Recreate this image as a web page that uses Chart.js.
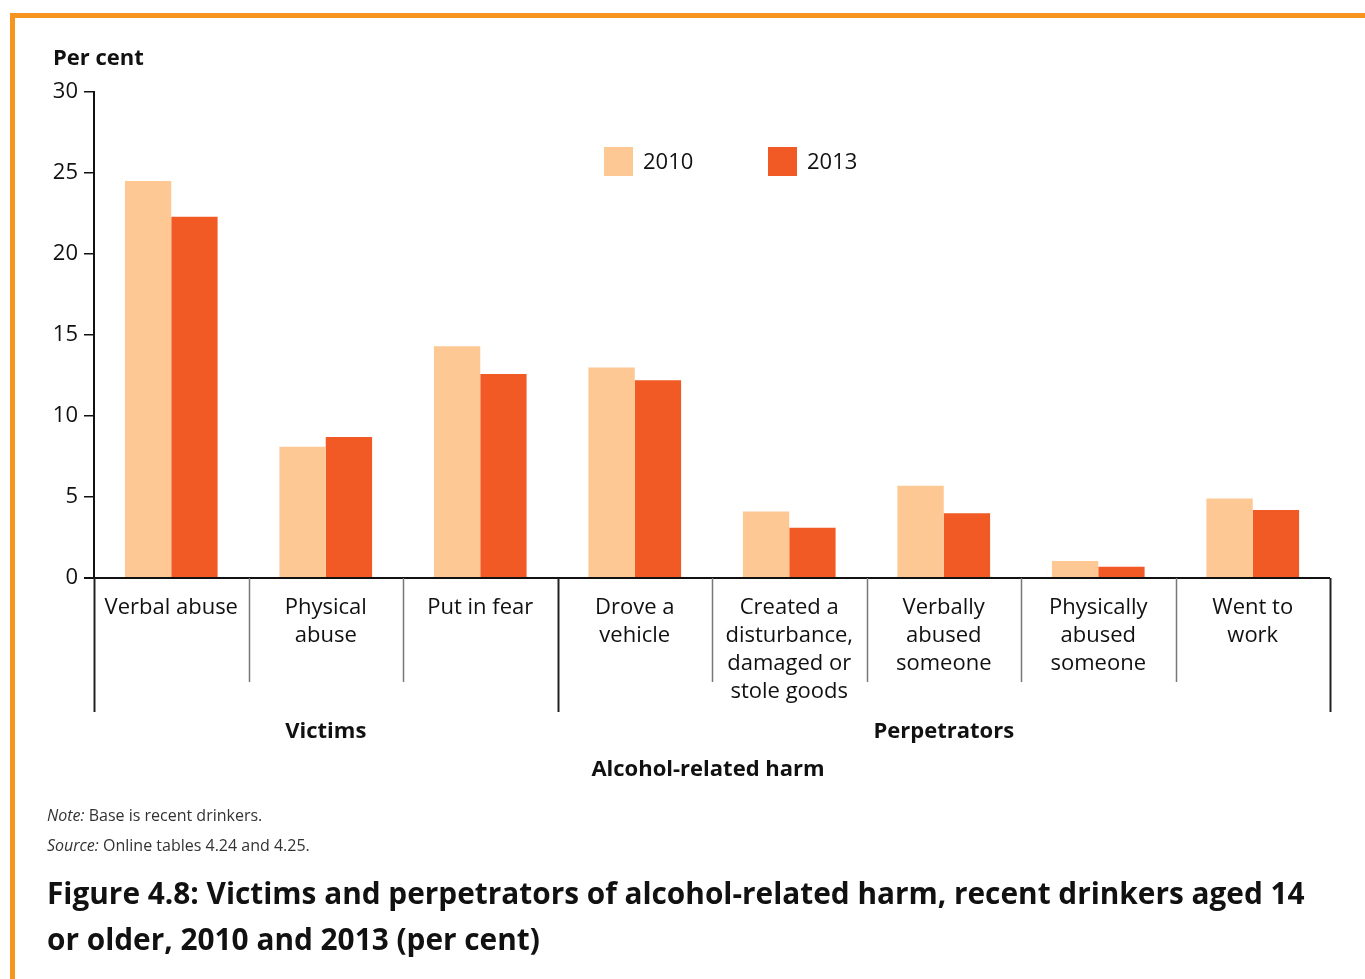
<!DOCTYPE html>
<html>
<head>
<meta charset="utf-8">
<script src="https://cdn.jsdelivr.net/npm/chart.js@4"></script>
<style>
  body { margin: 0; background: #fff; font-family: "Open Sans", sans-serif; }
  #frame { position: absolute; left: 10px; top: 13px; width: 1355px; height: 966px;
           border-top: 5px solid #F7941D; border-left: 5px solid #F7941D; }
  #wrap { position: absolute; left: 0; top: 0; width: 1365px; height: 979px; }
  .note { position: absolute; left: 47px; font-size: 16px; color: #333; }
  #title { position: absolute; left: 47px; top: 870px; width: 1310px; font-size: 29.8px;
           font-weight: bold; color: #111; line-height: 46px; white-space: nowrap; }
</style>
</head>
<body>
<div id="frame"></div>
<div id="wrap"><canvas id="harmChart"></canvas></div>
<div class="note" style="top:804px"><i>Note:</i> Base is recent drinkers.</div>
<div class="note" style="top:834px"><i>Source:</i> Online tables 4.24 and 4.25.</div>
<div id="title">Figure 4.8: Victims and perpetrators of alcohol-related harm, recent drinkers aged 14<br>or older, 2010 and 2013 (per cent)</div>
<script>
const categories = [
    ['Verbal abuse'], ['Physical', 'abuse'], ['Put in fear'], ['Drove a', 'vehicle'],
    ['Created a', 'disturbance,', 'damaged or', 'stole goods'],
    ['Verbally', 'abused', 'someone'], ['Physically', 'abused', 'someone'], ['Went to', 'work']
];
const groups = [
    { label: 'Victims', from: 0, to: 2 },
    { label: 'Perpetrators', from: 3, to: 7 }
];
const values2010 = [24.5, 8.1, 14.3, 13.0, 4.1, 5.7, 1.05, 4.9];
const values2013 = [22.3, 8.7, 12.6, 12.2, 3.1, 4.0, 0.7, 4.2];
const yTicks = [0, 5, 10, 15, 20, 25, 30];

const FONT = '"Open Sans", sans-serif';

// separators, group labels, axis titles, legend
const decor = {
    id: 'decor',
    afterDraw(chart) {
        const ctx = chart.ctx;
        const x = chart.scales.x, area = chart.chartArea;
        const half = (x.getPixelForValue(1) - x.getPixelForValue(0)) / 2;
        const groupEdges = new Set();
        groups.forEach(g => { groupEdges.add(g.from); groupEdges.add(g.to + 1); });
        ctx.save();
        // x axis line, reaching past the y axis
        ctx.strokeStyle = '#111';
        ctx.lineWidth = 2;
        ctx.beginPath();
        ctx.moveTo(area.left - 10, area.bottom);
        ctx.lineTo(area.right, area.bottom);
        ctx.stroke();
        for (let i = 0; i <= categories.length; i++) {
            const px = Math.round(x.getPixelForValue(i) - half) + 0.5;
            const major = groupEdges.has(i);
            ctx.strokeStyle = major ? '#222' : '#777';
            ctx.lineWidth = major ? 2 : 1.5;
            ctx.beginPath();
            ctx.moveTo(px, area.bottom);
            ctx.lineTo(px, area.bottom + (major ? 134 : 104));
            ctx.stroke();
        }
        ctx.fillStyle = '#111';
        ctx.textAlign = 'center';
        ctx.textBaseline = 'middle';
        ctx.font = 'bold 22px ' + FONT;
        groups.forEach(g => {
            const cx = (x.getPixelForValue(g.from) + x.getPixelForValue(g.to)) / 2;
            ctx.fillText(g.label, cx, area.bottom + 154);
        });
        ctx.fillText('Alcohol-related harm', (area.left + area.right) / 2 - 4, area.bottom + 192);
        ctx.textAlign = 'left';
        ctx.fillText('Per cent', 53, 59);
        // legend
        ctx.font = '22px ' + FONT;
        const legendX = [604, 768];
        chart.data.datasets.forEach((ds, i) => {
            ctx.fillStyle = ds.backgroundColor;
            ctx.fillRect(legendX[i], 147, 29, 29);
            ctx.fillStyle = '#111';
            ctx.fillText(ds.label, legendX[i] + 39, 163);
        });
        ctx.restore();
    }
};

new Chart(document.getElementById('harmChart'), {
    type: 'bar',
    data: {
        labels: categories,
        datasets: [
            { label: '2010', data: values2010, backgroundColor: '#FDC893' },
            { label: '2013', data: values2013, backgroundColor: '#F15A24' }
        ]
    },
    options: {
        responsive: true,
        maintainAspectRatio: false,
        animation: false,
        layout: { padding: { top: 92, right: 35, left: 0, bottom: 0 } },
        plugins: { legend: { display: false }, tooltip: { enabled: false } },
        datasets: { bar: { barPercentage: 1, categoryPercentage: 0.6 } },
        scales: {
            x: {
                grid: { display: false, drawTicks: false },
                border: { display: false },
                ticks: {
                    color: '#111', padding: 16, maxRotation: 0, autoSkip: false,
                    font: { family: FONT, size: 22, lineHeight: 1.27 }
                },
                afterFit(scale) { scale.height = 401; }
            },
            y: {
                min: 0, max: 30,
                afterBuildTicks(scale) { scale.ticks = yTicks.map(v => ({ value: v })); },
                grid: { drawOnChartArea: false, tickLength: 10, color: '#111', lineWidth: 1.5 },
                border: { display: true, color: '#111', width: 2 },
                ticks: { color: '#111', padding: 6, font: { family: FONT, size: 22 } },
                afterFit(scale) { scale.width = 94; }
            }
        }
    },
    plugins: [decor]
});
</script>
</body>
</html>
